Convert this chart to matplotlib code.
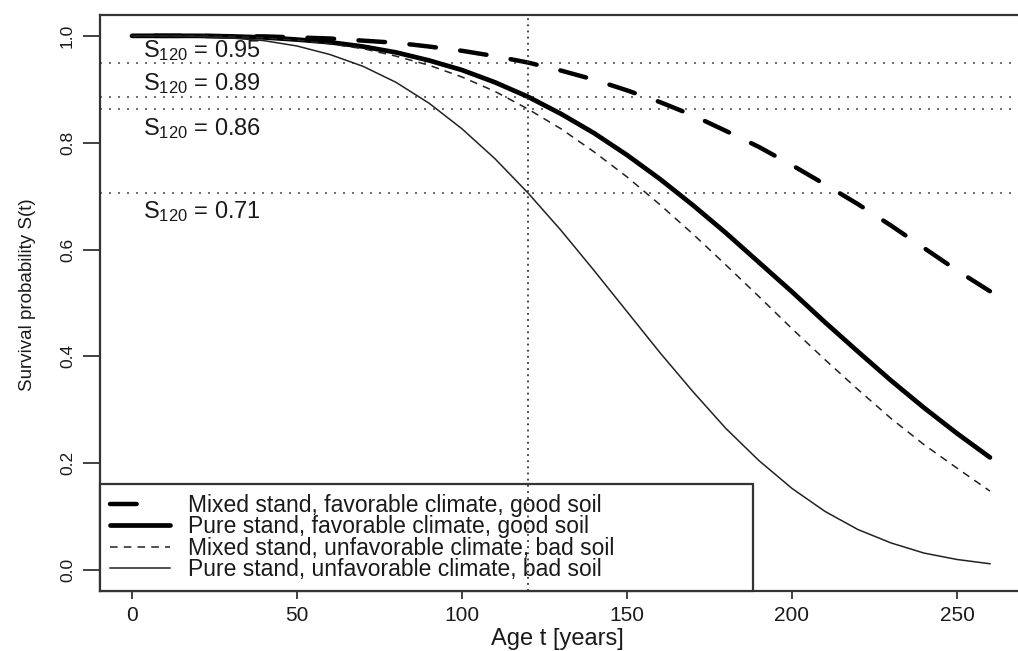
import matplotlib
matplotlib.use('Agg')
import matplotlib.pyplot as plt
import numpy as np

plt.rcParams['font.family'] = ['Liberation Sans', 'DejaVu Sans']
plt.rcParams['mathtext.fontset'] = 'custom'
plt.rcParams['mathtext.rm'] = 'Liberation Sans'
plt.rcParams['mathtext.it'] = 'Liberation Sans'

# age in years
ages = [0, 10, 20, 30, 40, 50, 60, 70, 80, 90, 100, 110, 120, 130,
        140, 150, 160, 170, 180, 190, 200, 210, 220, 230, 240, 250, 260]

# survival probabilities
mixedFav = [1.000, 1.000, 1.000, 0.999, 0.999, 0.997, 0.995, 0.991, 0.987, 0.980,
            0.972, 0.962, 0.950, 0.935, 0.918, 0.898, 0.876, 0.851, 0.822, 0.792,
            0.758, 0.722, 0.685, 0.645, 0.603, 0.561, 0.522]
pureFav = [1.000, 1.000, 1.000, 0.999, 0.997, 0.993, 0.988, 0.980, 0.969, 0.954,
           0.936, 0.913, 0.886, 0.854, 0.818, 0.777, 0.732, 0.683, 0.631, 0.576,
           0.521, 0.464, 0.409, 0.355, 0.304, 0.256, 0.211]
mixedUnfav = [1.000, 1.000, 1.000, 0.999, 0.996, 0.992, 0.985, 0.976, 0.962, 0.945,
              0.923, 0.896, 0.863, 0.826, 0.783, 0.736, 0.684, 0.629, 0.571, 0.512,
              0.452, 0.394, 0.338, 0.284, 0.235, 0.191, 0.148]
pureUnfav = [1.000, 1.000, 0.999, 0.996, 0.991, 0.981, 0.965, 0.943, 0.913, 0.874,
             0.826, 0.770, 0.706, 0.636, 0.561, 0.484, 0.407, 0.334, 0.265, 0.205,
             0.153, 0.110, 0.076, 0.051, 0.032, 0.020, 0.012]

labels = ['Mixed stand, favorable climate, good soil',
          'Pure stand, favorable climate, good soil',
          'Mixed stand, unfavorable climate, bad soil',
          'Pure stand, unfavorable climate, bad soil']

refAge = 120
s120 = [0.95, 0.886, 0.863, 0.706]
s120Text = ['0.95', '0.89', '0.86', '0.71']
textY = [0.961, 0.899, 0.815, 0.659]

xTicks = [0, 50, 100, 150, 200, 250]
yTicks = [0.0, 0.2, 0.4, 0.6, 0.8, 1.0]

ink = '#1a1a1a'

figure = plt.figure(figsize=(10.18, 6.51), dpi=100)
axes = figure.add_axes([100 / 1018, 60 / 651, 918 / 1018, 576 / 651])
axes.set_xlim(-9.7, 268.5)
axes.set_ylim(-0.039, 1.039)

# shift the long dashes so that the curve ends on a dash, like the original
dashOn, dashOff, thickDash = 6, 5.5, 3.2
pts = axes.transData.transform(np.column_stack([ages, mixedFav]))
pathLen = np.sum(np.hypot(*np.diff(pts, axis=0).T)) * 72 / figure.dpi / thickDash
dashOffset = (dashOn - 0.2 - pathLen) % (dashOn + dashOff)

axes.plot(ages, mixedFav, color='black', linewidth=thickDash,
          linestyle=(dashOffset, (dashOn, dashOff)), dash_capstyle='round', label=labels[0])
axes.plot(ages, pureFav, color='black', linewidth=3.4, solid_capstyle='round', label=labels[1])
axes.plot(ages, mixedUnfav, color='#222222', linewidth=1.1, dashes=(5, 4), label=labels[2])
axes.plot(ages, pureUnfav, color='#222222', linewidth=1.1, label=labels[3])

for s in s120:
    axes.axhline(s, color='#555555', linewidth=1.2, dashes=(1.2, 4.2), zorder=1)
axes.axvline(refAge, color='#333333', linewidth=1.3, dashes=(1, 2.4), zorder=6)

for s, y in zip(s120Text, textY):
    axes.text(3.3, y, r'S$_{120}$ = ' + s, fontsize=17, color=ink, va='baseline', ha='left')

axes.set_xticks(xTicks)
axes.set_xticklabels([str(x) for x in xTicks], fontsize=15, color=ink)
axes.set_yticks(yTicks)
axes.set_yticklabels(['%.1f' % y for y in yTicks], fontsize=12.5, color=ink,
                     rotation=90, va='center')
axes.tick_params(axis='x', length=6, width=1.3, pad=5, color='#333333')
axes.tick_params(axis='y', length=12, width=1.3, pad=6, color='#333333')
for side in ['left', 'top', 'bottom']:
    axes.spines[side].set_linewidth(1.6)
    axes.spines[side].set_color('#333333')
axes.spines['right'].set_visible(False)

leg = axes.legend(loc='lower left', bbox_to_anchor=(0, 0, 0.711, 0.2), mode='expand',
                  borderaxespad=0, fancybox=False, edgecolor='#333333', framealpha=1,
                  fontsize=16.5, labelspacing=-0.08, handlelength=2.6, handletextpad=0.8,
                  borderpad=0.45, labelcolor=ink)
leg.get_frame().set_linewidth(1.6)
leg.get_lines()[0].set_linestyle((0, (dashOn, 9)))
leg.set_zorder(5)

figure.text(557 / 1018, 1 - 639 / 651, 'Age t [years]', fontsize=17, color=ink,
            ha='center', va='center')
figure.text(28 / 1018, 1 - 295 / 651, 'Survival probability S(t)', fontsize=13.5,
            color=ink, ha='center', va='center', rotation=90)

figure.savefig('out.png', dpi=100)
plt.close('all')
